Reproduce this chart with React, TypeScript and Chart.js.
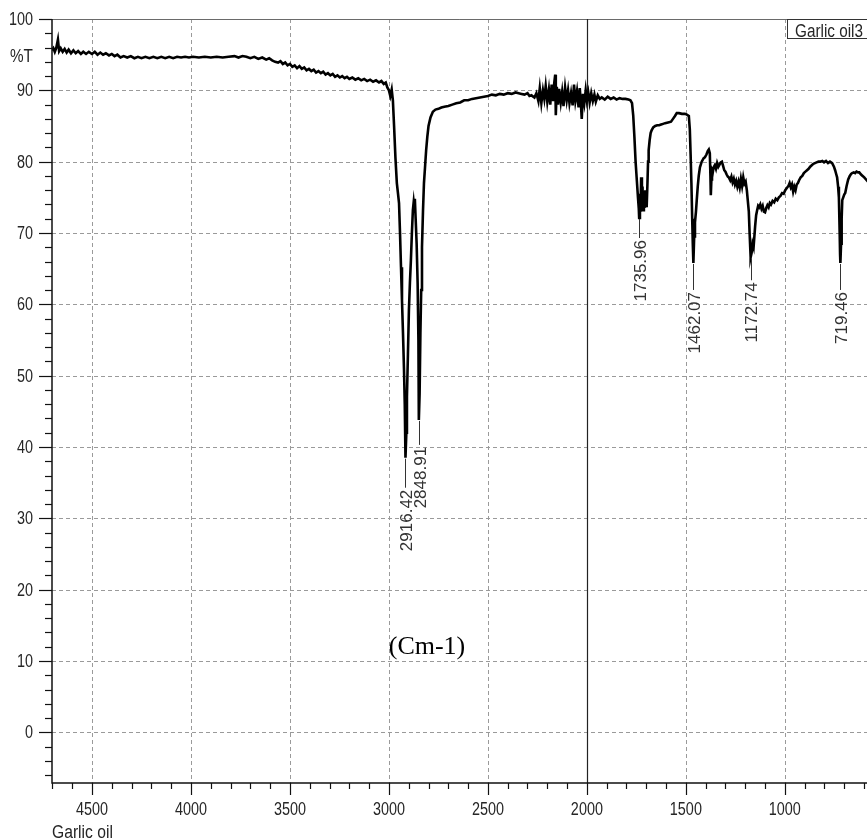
import React, { useEffect, useRef } from 'react';
import { Chart, registerables } from 'chart.js';

Chart.register(...registerables);

// ---- Data ----
const wavenumbers: number[] = [
  4702, 4695, 4688, 4680, 4672, 4666, 4658, 4648, 4638, 4628, 4618, 4606, 4594, 4582, 4570, 4556, 4544, 4530, 4516, 4500,
  4486, 4472, 4458, 4444, 4430, 4414, 4400, 4386, 4372, 4356, 4340, 4322, 4304, 4286, 4268, 4250, 4230, 4210, 4190, 4170,
  4150, 4130, 4110, 4090, 4070, 4050, 4030, 4010, 3990, 3960, 3930, 3900, 3870, 3840, 3810, 3780, 3760, 3740, 3720, 3700,
  3680, 3660, 3640, 3620, 3605, 3590, 3575, 3560, 3548, 3536, 3524, 3512, 3500, 3488, 3476, 3464, 3452, 3440, 3428, 3416,
  3404, 3392, 3380, 3368, 3356, 3344, 3332, 3320, 3308, 3296, 3284, 3272, 3260, 3248, 3236, 3224, 3212, 3200, 3185, 3170,
  3155, 3140, 3125, 3110, 3095, 3080, 3065, 3050, 3038, 3026, 3016, 3008, 3000, 2993, 2986, 2980, 2974, 2967, 2960, 2954,
  2949, 2944, 2939, 2934, 2929, 2924, 2920, 2916.42, 2912, 2909, 2904, 2899, 2894, 2889, 2884, 2879, 2875, 2872, 2869, 2865,
  2860, 2855, 2851, 2848.91, 2845, 2841, 2837, 2833, 2828, 2823, 2817, 2812, 2806, 2800, 2790, 2778, 2765, 2750, 2735, 2720,
  2700, 2680, 2660, 2640, 2620, 2600, 2580, 2560, 2540, 2520, 2500, 2480, 2460, 2440, 2420, 2400, 2380, 2360, 2345, 2330,
  2315, 2300, 2290, 2280, 2265, 2255, 2245, 2238, 2230, 2222, 2215, 2208, 2200, 2192, 2185, 2178, 2170, 2165, 2160, 2157,
  2152, 2146, 2140, 2132, 2125, 2118, 2110, 2102, 2095, 2088, 2080, 2072, 2065, 2058, 2050, 2042, 2036, 2030, 2026, 2020,
  2013, 2006, 2000, 1993, 1986, 1978, 1970, 1962, 1955, 1945, 1935, 1925, 1910, 1895, 1880, 1865, 1850, 1835, 1820, 1805,
  1790, 1780, 1772, 1766, 1760, 1754, 1748, 1742, 1738, 1735.96, 1732, 1729, 1726, 1722, 1719, 1716, 1712, 1709, 1705, 1701,
  1698, 1694, 1691, 1688, 1683, 1678, 1673, 1665, 1655, 1645, 1635, 1625, 1615, 1605, 1590, 1575, 1565, 1555, 1546, 1535,
  1520, 1505, 1495, 1485, 1480, 1476, 1472, 1468, 1465, 1462.07, 1458, 1454, 1449, 1445, 1440, 1435, 1429, 1420, 1410, 1404,
  1396, 1389, 1384, 1379, 1376, 1374, 1371, 1368, 1364, 1360, 1354, 1348, 1342, 1336, 1330, 1324, 1318, 1312, 1306, 1300,
  1294, 1288, 1283, 1276, 1270, 1264, 1258, 1252, 1246, 1240, 1234, 1228, 1222, 1216, 1210, 1204, 1198, 1192, 1187, 1182,
  1178, 1175, 1172.74, 1168, 1163, 1158, 1154, 1150, 1145, 1140, 1135, 1130, 1124, 1118, 1112, 1106, 1100, 1094, 1088, 1082,
  1076, 1070, 1062, 1054, 1046, 1038, 1030, 1022, 1014, 1006, 998, 990, 982, 976, 970, 964, 958, 952, 946, 940,
  934, 928, 920, 912, 904, 896, 888, 880, 872, 864, 856, 848, 840, 830, 820, 811, 802, 792, 782, 772,
  761, 752, 746, 740, 736, 731, 727, 723, 721, 719.46, 716, 713, 710, 705, 700, 695, 688, 680, 672, 665,
  660, 652, 645, 638, 630, 624, 615, 607, 599, 590, 580, 573,
];

const transmittance: number[] = [
  95.6, 95.9, 95.4, 96.0, 97.1, 95.5, 95.9, 95.4, 95.8, 95.3, 95.7, 95.2, 95.6, 95.2, 95.5, 95.1, 95.4, 95.1, 95.4, 95.1,
  95.4, 95.0, 95.3, 95.0, 95.2, 94.9, 95.1, 94.8, 95.0, 94.6, 94.8, 94.6, 94.8, 94.5, 94.7, 94.5, 94.7, 94.5, 94.7, 94.5,
  94.7, 94.5, 94.7, 94.5, 94.7, 94.6, 94.7, 94.6, 94.7, 94.6, 94.7, 94.6, 94.7, 94.6, 94.7, 94.8, 94.6, 94.8, 94.7, 94.5,
  94.7, 94.4, 94.6, 94.3, 94.5, 94.2, 94.0, 93.9, 94.1, 93.7, 93.9, 93.5, 93.7, 93.3, 93.5, 93.1, 93.4, 93.0, 93.2, 92.8,
  93.0, 92.7, 92.9, 92.5, 92.7, 92.4, 92.6, 92.2, 92.4, 92.1, 92.3, 91.9, 92.1, 91.8, 92.0, 91.7, 91.9, 91.6, 91.8, 91.5,
  91.7, 91.4, 91.6, 91.3, 91.5, 91.2, 91.4, 91.1, 91.3, 90.9, 91.1, 90.4, 90.0, 89.2, 90.1, 88.6, 85.0, 80.5, 77.0, 75.5,
  74.2, 70.0, 65.2, 60.5, 56.0, 51.0, 46.0, 38.5, 42.0, 47.0, 53.0, 59.2, 63.0, 66.2, 70.0, 73.2, 74.3, 73.5, 74.8, 72.0,
  68.5, 63.0, 55.0, 43.8, 47.5, 56.0, 62.0, 68.0, 73.0, 77.0, 79.5, 81.6, 83.5, 85.0, 86.2, 87.0, 87.3, 87.4, 87.6, 87.7,
  87.8, 88.0, 88.2, 88.3, 88.6, 88.6, 88.8, 88.9, 89.0, 89.1, 89.2, 89.4, 89.3, 89.5, 89.4, 89.6, 89.5, 89.7, 89.6, 89.5,
  89.4, 89.6, 89.2, 89.3, 89.0, 89.6, 88.5, 90.3, 88.2, 90.0, 88.8, 90.6, 88.4, 90.1, 88.0, 90.8, 88.5, 91.0, 92.2, 86.5,
  90.5, 88.0, 90.2, 88.3, 89.8, 87.8, 90.4, 88.6, 90.0, 88.2, 89.6, 87.9, 90.8, 88.5, 89.9, 87.6, 90.3, 88.0, 86.0, 89.5,
  88.2, 90.0, 88.6, 89.7, 88.3, 89.6, 88.5, 89.4, 88.4, 89.3, 88.8, 89.0, 88.7, 89.1, 88.8, 89.0, 88.7, 88.9, 88.8, 88.8,
  88.7, 88.6, 88.2, 86.5, 83.5, 80.0, 77.5, 75.0, 73.5, 72.1, 75.5, 73.0, 77.8, 74.0, 76.5, 73.2, 75.8, 73.5, 76.0, 74.5,
  73.6, 77.0, 80.0, 81.6, 83.0, 84.0, 84.4, 84.8, 85.0, 85.1, 85.1, 85.2, 85.3, 85.4, 85.5, 85.6, 86.0, 86.4, 86.8, 86.8,
  86.7, 86.7, 86.6, 86.4, 84.5, 81.0, 77.0, 72.0, 68.5, 65.8, 69.5, 71.5, 73.0, 74.6, 76.5, 78.0, 79.2, 80.0, 80.5, 80.6,
  81.0, 81.5, 81.7, 81.2, 78.0, 75.3, 77.5, 78.8, 78.5, 79.2, 79.5, 79.0, 79.8, 79.3, 79.6, 79.9, 80.0, 79.4, 78.8, 78.6,
  78.2, 77.9, 77.8, 77.4, 77.9, 77.1, 77.6, 76.8, 77.3, 76.5, 77.2, 76.4, 77.6, 76.6, 77.8, 76.9, 77.2, 76.0, 74.5, 73.0,
  70.0, 68.0, 66.6, 67.2, 68.5, 68.0, 69.5, 71.0, 72.5, 73.2, 73.8, 73.6, 74.0, 73.4, 73.8, 73.0, 72.9, 73.5, 73.9, 73.6,
  74.2, 74.0, 74.5, 74.3, 74.8, 74.6, 75.0, 75.2, 75.6, 75.5, 76.0, 76.3, 76.6, 77.0, 76.4, 76.8, 75.8, 76.5, 76.0, 76.8,
  77.0, 77.4, 77.8, 78.0, 78.4, 78.6, 78.8, 79.0, 79.3, 79.5, 79.7, 79.8, 79.9, 80.0, 80.0, 80.1, 79.9, 80.1, 79.8, 80.0,
  79.8, 79.3, 78.8, 78.2, 77.8, 76.5, 75.0, 70.0, 67.0, 65.8, 68.5, 72.0, 74.6, 75.0, 75.4, 75.6, 76.6, 77.5, 78.0, 78.3,
  78.4, 78.5, 78.4, 78.6, 78.5, 78.5, 78.2, 78.0, 77.8, 77.5, 77.2, 77.1,
];

const peakWavenumbers: number[] = [2916.42, 2848.91, 1735.96, 1462.07, 1172.74, 719.46];
const peakMinima: number[] = [38.5, 43.8, 72.1, 65.8, 66.6, 65.8];
const peakLabels: string[] = ['2916.42', '2848.91', '1735.96', '1462.07', '1172.74', '719.46'];

const xMajorTicks: number[] = [4500, 4000, 3500, 3000, 2500, 2000, 1500, 1000];
const yMajorTicks: number[] = [0, 10, 20, 30, 40, 50, 60, 70, 80, 90, 100];
const xMin = 585;
const xMax = 4702;
const yMin = -7.1;
const yMax = 100;
const xMinorStep = 100;
const yMinorStep = 2;
const solidLineAt = 2000;

const seriesName = 'Garlic oil3';
const sampleLabel = 'Garlic oil';
const yUnitLabel = '%T';
const xUnitLabel = '(Cm-1)';

const SANS = '"Liberation Sans", Arial, sans-serif';
const TEXT_COLOR = '#262626';
const leaderLengths = [30, 25, 20, 27, 23, 27];

function condensedText(
  ctx: CanvasRenderingContext2D,
  text: string,
  x: number,
  y: number,
  size: number,
  sx: number,
  align: CanvasTextAlign,
  baseline: CanvasTextBaseline
) {
  ctx.save();
  ctx.translate(x, y);
  ctx.scale(sx, 1);
  ctx.font = size + 'px ' + SANS;
  ctx.textAlign = align;
  ctx.textBaseline = baseline;
  ctx.fillText(text, 0, 0);
  ctx.restore();
}

const decorPlugin = {
  id: 'decor',
  beforeDatasetsDraw(chart: any) {
    const { ctx, chartArea, scales } = chart;
    const xs = scales.x;
    const ys = scales.y;
    ctx.save();
    ctx.strokeStyle = '#9a9a9a';
    ctx.lineWidth = 1;
    ctx.setLineDash([4, 3]);
    xMajorTicks.forEach((v) => {
      if (v === solidLineAt) return;
      const px = Math.round(xs.getPixelForValue(v)) + 0.5;
      ctx.beginPath();
      ctx.moveTo(px, chartArea.top);
      ctx.lineTo(px, chartArea.bottom);
      ctx.stroke();
    });
    yMajorTicks.forEach((v) => {
      const py = Math.round(ys.getPixelForValue(v)) + 0.5;
      ctx.beginPath();
      ctx.moveTo(chartArea.left, py);
      ctx.lineTo(chartArea.right, py);
      ctx.stroke();
    });
    ctx.setLineDash([]);
    ctx.strokeStyle = '#6a6a6a';
    ctx.beginPath();
    ctx.moveTo(chartArea.left, chartArea.top + 0.5);
    ctx.lineTo(chartArea.right, chartArea.top + 0.5);
    ctx.stroke();
    const sx = Math.round(xs.getPixelForValue(solidLineAt)) + 0.5;
    ctx.strokeStyle = '#222';
    ctx.lineWidth = 1.2;
    ctx.beginPath();
    ctx.moveTo(sx, chartArea.top);
    ctx.lineTo(sx, chartArea.bottom);
    ctx.stroke();
    ctx.restore();
  },
  afterDraw(chart: any) {
    const { ctx, chartArea, scales } = chart;
    const xs = scales.x;
    const ys = scales.y;
    ctx.save();
    // axes
    ctx.strokeStyle = '#111';
    ctx.lineWidth = 1.5;
    ctx.beginPath();
    ctx.moveTo(chartArea.left, chartArea.top);
    ctx.lineTo(chartArea.left, chartArea.bottom);
    ctx.lineTo(chartArea.right, chartArea.bottom);
    ctx.stroke();
    // y ticks
    ctx.lineWidth = 1.2;
    for (let v = 100; v >= yMin; v -= yMinorStep) {
      const major = Math.abs(v % 10) < 1e-6;
      const py = Math.round(ys.getPixelForValue(v)) + 0.5;
      ctx.beginPath();
      ctx.moveTo(chartArea.left, py);
      ctx.lineTo(chartArea.left - (major ? 13 : 7), py);
      ctx.stroke();
    }
    // x ticks
    for (let v = 4700; v >= xMin; v -= xMinorStep) {
      const major = v % 500 === 0;
      const px = Math.round(xs.getPixelForValue(v)) + 0.5;
      ctx.beginPath();
      ctx.moveTo(px, chartArea.bottom);
      ctx.lineTo(px, chartArea.bottom + (major ? 12 : 6));
      ctx.stroke();
    }
    // tick labels (positions from the scales)
    ctx.fillStyle = TEXT_COLOR;
    yMajorTicks.forEach((v) => {
      condensedText(ctx, String(v), chartArea.left - 19, ys.getPixelForValue(v) + 1, 18, 0.8, 'right', 'middle');
    });
    xMajorTicks.forEach((v) => {
      condensedText(ctx, String(v), xs.getPixelForValue(v), chartArea.bottom + 27, 18, 0.8, 'center', 'middle');
    });
    // peak labels
    ctx.lineWidth = 1;
    ctx.strokeStyle = '#333';
    ctx.fillStyle = '#333';
    ctx.font = '17px ' + SANS;
    peakWavenumbers.forEach((w, i) => {
      const px = xs.getPixelForValue(w);
      const py = ys.getPixelForValue(peakMinima[i]);
      const lx = Math.round(px) + 0.5;
      const end = py + leaderLengths[i];
      ctx.beginPath();
      ctx.moveTo(lx, py + 1);
      ctx.lineTo(lx, end);
      ctx.stroke();
      ctx.save();
      ctx.translate(px + 2, end + 2);
      ctx.rotate(-Math.PI / 2);
      ctx.textAlign = 'right';
      ctx.textBaseline = 'middle';
      ctx.fillText(peakLabels[i], 0, 0);
      ctx.restore();
    });
    // legend box
    ctx.fillStyle = '#fff';
    ctx.fillRect(787, chartArea.top, 90, 19);
    ctx.strokeStyle = '#333';
    ctx.lineWidth = 1;
    ctx.strokeRect(787.5, chartArea.top + 0.5, 90, 19);
    ctx.fillStyle = TEXT_COLOR;
    condensedText(ctx, seriesName, 795, chartArea.top + 18, 18, 0.85, 'left', 'alphabetic');
    // side labels
    condensedText(ctx, yUnitLabel, 10, 62, 18, 0.85, 'left', 'alphabetic');
    condensedText(ctx, sampleLabel, 52, 838, 18, 0.87, 'left', 'alphabetic');
    ctx.font = '26px "Liberation Serif", "Times New Roman", serif';
    ctx.textAlign = 'center';
    ctx.textBaseline = 'middle';
    ctx.fillStyle = '#000';
    ctx.fillText(xUnitLabel, 427, 647);
    ctx.restore();
  },
};

export default function App() {
  const canvasRef = useRef<HTMLCanvasElement | null>(null);

  useEffect(() => {
    if (!canvasRef.current) return;
    const points = wavenumbers.map((w, i) => ({ x: w, y: transmittance[i] }));
    const chart = new Chart(canvasRef.current, {
      type: 'line',
      data: {
        datasets: [
          {
            label: seriesName,
            data: points,
            borderColor: '#000',
            borderWidth: 2.6,
            pointRadius: 0,
            tension: 0,
            fill: false,
          },
        ],
      },
      options: {
        animation: false,
        responsive: false,
        layout: { padding: { top: 19, left: 0, right: 0, bottom: 0 } },
        plugins: { legend: { display: false }, tooltip: { enabled: false } },
        scales: {
          x: {
            type: 'linear',
            reverse: true,
            min: xMin,
            max: xMax,
            grid: { display: false, drawTicks: false, tickLength: 0 },
            border: { display: false },
            ticks: { display: false },
            afterFit: (s: any) => {
              s.height = 56;
            },
          },
          y: {
            type: 'linear',
            min: yMin,
            max: yMax,
            grid: { display: false, drawTicks: false, tickLength: 0 },
            border: { display: false },
            ticks: { display: false },
            afterFit: (s: any) => {
              s.width = 52;
            },
          },
        },
      },
      plugins: [decorPlugin],
    });
    return () => chart.destroy();
  }, []);

  return (
    <div style={{ position: 'absolute', left: 0, top: 0, width: 867, height: 839, background: '#fff' }}>
      <canvas ref={canvasRef} width={867} height={839} style={{ display: 'block' }} />
    </div>
  );
}
